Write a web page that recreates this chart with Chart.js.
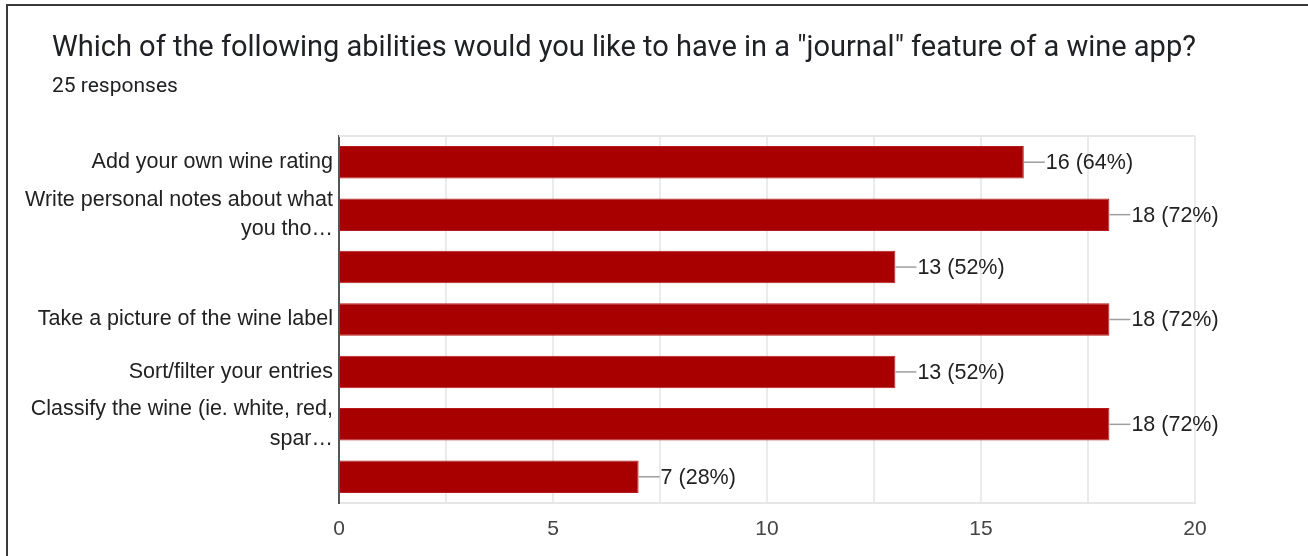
<!DOCTYPE html>
<html>
<head>
<meta charset="utf-8">
<script src="https://cdn.jsdelivr.net/npm/chart.js@4/dist/chart.umd.min.js"></script>
<style>
  html, body { margin: 0; padding: 0; background: #fff; }
  #wrap { position: relative; width: 1308px; height: 556px; overflow: hidden; }
  #frame { position: absolute; left: 6px; top: 4px; width: 1310px; height: 560px;
           border-top: 2px solid #3a3a3a; border-left: 2px solid #3a3a3a; box-sizing: border-box; }
  #title { position: absolute; left: 52px; top: 28px; font-family: Roboto, "Open Sans", sans-serif;
           font-size: 29px; line-height: 36px; color: #202124; white-space: nowrap; }
  #sub { position: absolute; left: 52px; top: 72px; font-family: Roboto, sans-serif;
         font-size: 21px; line-height: 26px; color: #202124; white-space: nowrap; }
  canvas { position: absolute; left: 0; top: 0; }
</style>
</head>
<body>
<div id="wrap">
  <div id="frame"></div>
  <canvas id="c" width="1308" height="556"></canvas>
  <div id="title">Which of the following abilities would you like to have in a "journal" feature of a wine app?</div>
  <div id="sub">25 responses</div>
</div>
<script>
const categories = [
  "Add your own wine rating",
  ["Write personal notes about what", "you tho…"],
  "",
  "Take a picture of the wine label",
  "Sort/filter your entries",
  ["Classify the wine (ie. white, red,", "spar…"],
  ""
];
const counts = [16, 18, 13, 18, 13, 18, 7];
const totalResponses = 25;
const xTicks = [0, 5, 10, 15, 20];

const labelFont = '21.5px "Liberation Sans", Arial, sans-serif';

const valueLabels = {
  id: 'valueLabels',
  afterDatasetsDraw(chart) {
    const ctx = chart.ctx;
    const meta = chart.getDatasetMeta(0);
    ctx.save();
    ctx.font = labelFont;
    ctx.textBaseline = 'middle';
    meta.data.forEach((bar, i) => {
      const v = counts[i];
      const pct = Math.round(v / totalResponses * 100);
      ctx.strokeStyle = '#9e9e9e';
      ctx.lineWidth = 1.5;
      ctx.beginPath();
      ctx.moveTo(bar.x, bar.y);
      ctx.lineTo(bar.x + 21, bar.y);
      ctx.stroke();
      ctx.fillStyle = '#222222';
      ctx.fillText(v + ' (' + pct + '%)', bar.x + 22, bar.y + 1);
    });
    ctx.restore();
  }
};

const frameLines = {
  id: 'frameLines',
  beforeDatasetsDraw(chart) {
    const a = chart.chartArea;
    const ctx = chart.ctx;
    ctx.save();
    ctx.strokeStyle = '#e6e6e6';
    ctx.lineWidth = 2;
    ctx.beginPath();
    ctx.moveTo(a.left, a.top);
    ctx.lineTo(a.right, a.top);
    ctx.stroke();
    ctx.restore();
  }
};

new Chart(document.getElementById('c'), {
  type: 'bar',
  data: {
    labels: categories,
    datasets: [{
      data: counts,
      backgroundColor: '#a80000',
      borderColor: '#b71c1c',
      borderWidth: 1,
      categoryPercentage: 1,
      barPercentage: 0.62
    }]
  },
  options: {
    indexAxis: 'y',
    responsive: false,
    animation: false,
    layout: { padding: { left: 0, top: 136, right: 113, bottom: 0 } },
    plugins: { legend: { display: false }, tooltip: { enabled: false } },
    scales: {
      x: {
        min: 0, max: 20,
        afterFit(s) { s.height = 53; },
        afterBuildTicks(s) {
          const t = [];
          for (let v = 0; v <= 20; v += 2.5) t.push({ value: v });
          s.ticks = t;
        },
        ticks: {
          padding: 14,
          autoSkip: false,
          maxRotation: 0,
          color: '#444',
          font: { family: '"Liberation Sans", Arial, sans-serif', size: 21 },
          callback: (v) => xTicks.includes(v) ? String(v) : ''
        },
        grid: {
          drawTicks: false,
          lineWidth: 2,
          color: (c) => (c.tick && c.tick.value === 0) ? 'rgba(0,0,0,0)' : '#ebebeb'
        },
        border: { display: true, color: '#e6e6e6', width: 2 }
      },
      y: {
        afterFit(s) { s.width = 339; },
        ticks: {
          padding: 6,
          autoSkip: false,
          color: '#222',
          font: { family: '"Liberation Sans", Arial, sans-serif', size: 21.5, lineHeight: 1.38 }
        },
        grid: { display: false, drawTicks: false },
        border: { display: true, color: '#555', width: 2 }
      }
    }
  },
  plugins: [valueLabels, frameLines]
});
</script>
</body>
</html>
